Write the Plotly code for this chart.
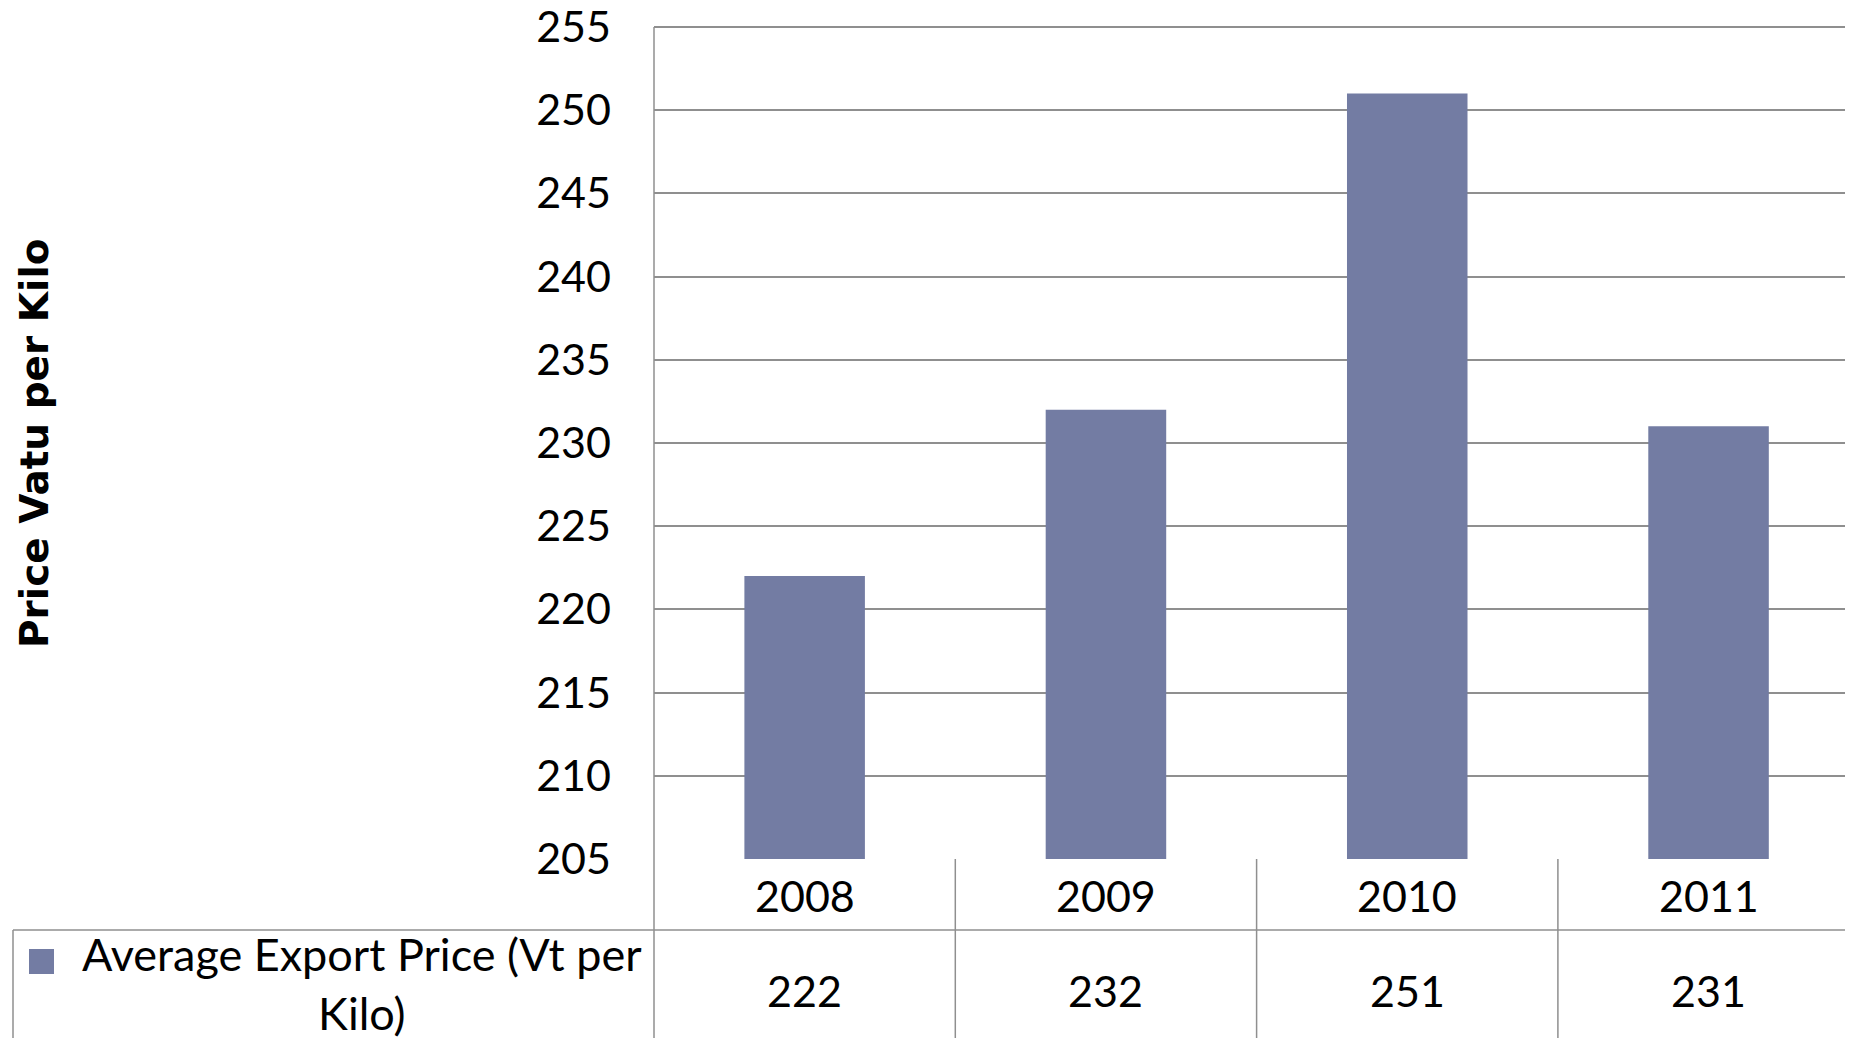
import plotly.graph_objects as go

years = ["2008", "2009", "2010", "2011"]
prices = [222, 232, 251, 231]
y_ticks = [205, 210, 215, 220, 225, 230, 235, 240, 245, 250, 255]
series_name = "Average Export Price (Vt per<br>Kilo)"
y_title = "Price Vatu per Kilo"

# page body has an 8px margin; figure sized to fit the viewport exactly
OFF = 8
W, H = 1853 - 2 * OFF, 1046 - 2 * OFF
BAR = "#737CA3"
GRID = "#8f8f8f"
FONT = "Lato, 'Open Sans', sans-serif"


def px(x):
    return (x - OFF) / W


def py(y):
    return 1 - (y - OFF) / H


x_left = 654
cat_w = 301.3
x_range = [-0.5, -0.5 + (W + OFF - x_left) / cat_w]

y_bot_px, y_top_px = 859, 27
unit_px = (y_bot_px - y_top_px) / (y_ticks[-1] - y_ticks[0])
pad = 0.15  # small headroom so the 255 gridline is kept
y_range = [y_ticks[0], y_ticks[-1] + pad]

fig = go.Figure()
fig.add_trace(go.Bar(x=list(range(len(years))), y=prices, marker=dict(color=BAR, line=dict(width=0)),
                     width=0.4, showlegend=False, hoverinfo="x+y"))

shapes = []
shapes.append(dict(type="line", xref="paper", yref="paper", x0=px(x_left), x1=px(x_left),
                   y0=py(y_top_px), y1=0, line=dict(color=GRID, width=1.5)))
shapes.append(dict(type="line", xref="paper", yref="paper", x0=px(13), x1=1,
                   y0=py(930), y1=py(930), line=dict(color=GRID, width=1.5)))
shapes.append(dict(type="line", xref="paper", yref="paper", x0=px(13), x1=px(13),
                   y0=py(930), y1=0, line=dict(color=GRID, width=1.5)))
for i in range(len(years) - 1):
    shapes.append(dict(type="line", xref="x", yref="paper", x0=i + 0.5, x1=i + 0.5,
                       y0=py(y_bot_px), y1=0, line=dict(color=GRID, width=1.5)))
shapes.append(dict(type="rect", xref="paper", yref="paper", x0=px(29), x1=px(54),
                   y0=py(974), y1=py(949), fillcolor=BAR, line=dict(width=0)))

annotations = []
for i, (yr, v) in enumerate(zip(years, prices)):
    annotations.append(dict(x=i, y=py(895), xref="x", yref="paper", text=yr, showarrow=False,
                            font=dict(family=FONT, size=43, color="black"), xanchor="center", yanchor="middle"))
    annotations.append(dict(x=i, y=py(990), xref="x", yref="paper", text=str(v), showarrow=False,
                            font=dict(family=FONT, size=43, color="black"), xanchor="center", yanchor="middle"))
annotations.append(dict(x=px(362), y=py(983), xref="paper", yref="paper", text=series_name, showarrow=False,
                        font=dict(family=FONT, size=45, color="black"), xanchor="center", yanchor="middle",
                        align="center"))
annotations.append(dict(x=px(34), y=py(443), xref="paper", yref="paper", text="<b>" + y_title + "</b>",
                        showarrow=False, textangle=-90,
                        font=dict(family="'DejaVu Sans', sans-serif", size=39, color="black"),
                        xanchor="center", yanchor="middle"))

fig.update_layout(
    width=W, height=H,
    margin=dict(l=0, r=0, t=0, b=0, autoexpand=False),
    paper_bgcolor="white", plot_bgcolor="white",
    shapes=shapes,
    annotations=annotations,
    xaxis=dict(domain=[px(x_left), 1], range=x_range, showticklabels=False, showgrid=False,
               zeroline=False, showline=False, ticks="", fixedrange=True, automargin=False),
    yaxis=dict(domain=[py(y_bot_px), py(y_top_px - pad * unit_px)], range=y_range, tickvals=y_ticks,
               ticktext=[str(t) for t in y_ticks], showgrid=True, gridcolor=GRID, gridwidth=1.5,
               zeroline=False, showline=False, ticks="", ticklabelstandoff=42, automargin=False,
               ticklabeloverflow="allow",
               tickfont=dict(family=FONT, size=43, color="black"), fixedrange=True),
)

fig.write_html("out.html")
